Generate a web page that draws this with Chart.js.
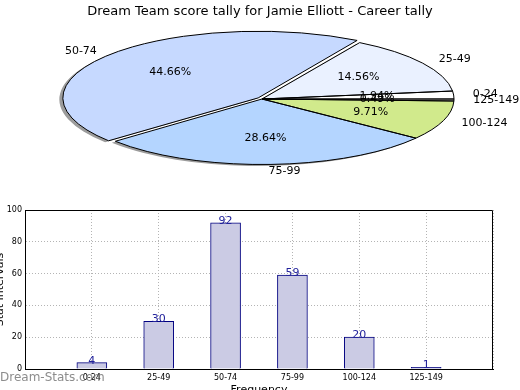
<!DOCTYPE html>
<html>
<head>
<meta charset="utf-8">
<script src="https://cdn.jsdelivr.net/npm/chart.js@4.4.1/dist/chart.umd.min.js"></script>
<style>
  html, body { margin: 0; padding: 0; background: #fff; }
  #wrap { position: relative; width: 520px; height: 390px; overflow: hidden; }
  canvas { position: absolute; left: 0; top: 0; }
</style>
</head>
<body>
<div id="wrap">
  <canvas id="barChart" width="520" height="390"></canvas>
  <canvas id="pieChart" width="520" height="200"></canvas>
</div>
<script>
const TITLE = "Dream Team score tally for Jamie Elliott - Career tally";
const categories = ["0-24", "25-49", "50-74", "75-99", "100-124", "125-149"];
const counts = [4, 30, 92, 59, 20, 1];
const yTicks = [0, 20, 40, 60, 80, 100];
const explodedSlice = "50-74";

const FONT = "DejaVu Sans";
const SLICE_COLORS = ["#ffffff", "#eaf1ff", "#c6d9ff", "#b4d5ff", "#d1ea8c", "#f4f4f4"];
const PIE_RADIUS = 192;
const PIE_SQUASH = 65.5 / 192;
const EXPLODE_OFFSET = 20;

Chart.defaults.font.family = FONT;
Chart.defaults.color = "#000";

const total = counts.reduce((s, v) => s + v, 0);

// matplotlib goes counter-clockwise from 3 o'clock, chart.js clockwise,
// so feed the slices in reverse
const pieLabels = categories.slice().reverse();
const pieValues = counts.slice().reverse();
const pieColors = SLICE_COLORS.slice().reverse();

function squash(ctx, chart) {
  const cy = (chart.chartArea.top + chart.chartArea.bottom) / 2;
  ctx.translate(0, cy);
  ctx.scale(1, PIE_SQUASH);
  ctx.translate(0, -cy);
}

// same geometry chart.js uses for an offset arc
function wedgePath(ctx, arc) {
  const { x, y, startAngle, endAngle, outerRadius } = arc;
  const off = (arc.options.offset || 0) / 4;
  const half = (startAngle + endAngle) / 2;
  const alpha = endAngle - startAngle;
  const ro = off * (1 - Math.sin(Math.min(Math.PI, alpha)));
  const r = outerRadius + ro;
  const beta = Math.max(0.001, alpha * r - ro / Math.PI) / r;
  const a0 = startAngle + (alpha - beta) / 2;
  const a1 = endAngle - (alpha - beta) / 2;
  const cx = x + Math.cos(half) * off;
  const cy = y + Math.sin(half) * off;
  ctx.beginPath();
  ctx.moveTo(cx, cy);
  ctx.arc(cx, cy, r, a0, a1);
  ctx.closePath();
}

const ellipsePie = {
  id: "ellipsePie",
  beforeDatasetsDraw(chart) {
    const ctx = chart.ctx;
    const arcs = chart.getDatasetMeta(0).data;
    ctx.save();
    ctx.translate(-3.5, 1.5);
    squash(ctx, chart);
    ctx.fillStyle = "#9c9c9c";
    arcs.forEach((a) => { wedgePath(ctx, a); ctx.fill(); });
    ctx.restore();
    ctx.save();
    squash(ctx, chart);
  },
  afterDatasetsDraw(chart) {
    const ctx = chart.ctx;
    ctx.restore();
    const arcs = chart.getDatasetMeta(0).data;
    ctx.save();
    ctx.lineWidth = 1;
    ctx.strokeStyle = "#000";
    ctx.lineJoin = "round";
    arcs.forEach((a) => {
      ctx.save();
      squash(ctx, chart);
      wedgePath(ctx, a);
      ctx.restore();
      ctx.stroke();
    });
    ctx.restore();
  },
  afterDraw(chart) {
    const ctx = chart.ctx;
    const ca = chart.chartArea;
    const midY = (ca.top + ca.bottom) / 2;
    const arcs = chart.getDatasetMeta(0).data;
    ctx.save();
    ctx.fillStyle = "#000";
    ctx.font = "13px " + FONT;
    ctx.textAlign = "center";
    ctx.textBaseline = "alphabetic";
    ctx.fillText(TITLE, 260, 15);

    ctx.font = "11px " + FONT;
    ctx.textBaseline = "middle";
    arcs.forEach((a, i) => {
      const half = (a.startAngle + a.endAngle) / 2;
      const off = (a.options.offset || 0) / 4;
      const cx = a.x + Math.cos(half) * off;
      const cy = a.y + Math.sin(half) * off;
      const at = (f) => [
        cx + Math.cos(half) * a.outerRadius * f,
        midY + (cy + Math.sin(half) * a.outerRadius * f - midY) * PIE_SQUASH,
      ];
      const [lx, ly] = at(1.1);
      ctx.textAlign = Math.cos(half) > 0 ? "left" : "right";
      ctx.fillText(pieLabels[i], lx, ly);
      const [px, py] = at(0.6);
      ctx.textAlign = "center";
      ctx.fillText((pieValues[i] / total * 100).toFixed(2) + "%", px, py);
    });
    ctx.restore();
  },
};

new Chart(document.getElementById("pieChart"), {
  type: "pie",
  data: {
    labels: pieLabels,
    datasets: [
      {
        data: pieValues,
        backgroundColor: pieColors,
        borderWidth: 0,
        offset: pieLabels.map((l) => (l === explodedSlice ? EXPLODE_OFFSET : 0)),
        clip: false,
      },
    ],
  },
  options: {
    responsive: false,
    animation: false,
    rotation: 90,
    radius: PIE_RADIUS,
    layout: { padding: { left: 4, bottom: 2 } },
    plugins: { legend: { display: false }, tooltip: { enabled: false } },
  },
  plugins: [ellipsePie],
});

const barExtras = {
  id: "barExtras",
  afterDatasetsDraw(chart) {
    const ctx = chart.ctx;
    const meta = chart.getDatasetMeta(0);
    const data = chart.data.datasets[0].data;
    ctx.save();
    ctx.fillStyle = "#22229b";
    ctx.font = "11px " + FONT;
    ctx.textAlign = "center";
    ctx.textBaseline = "alphabetic";
    meta.data.forEach((bar, i) => {
      if (data[i] == null) return;
      ctx.fillText(String(data[i]), bar.x, bar.y + 1);
    });
    ctx.restore();
  },
  afterDraw(chart) {
    const ctx = chart.ctx;
    const ca = chart.chartArea;
    ctx.save();
    ctx.strokeStyle = "#000";
    ctx.lineWidth = 1;
    ctx.beginPath();
    ctx.moveTo(ca.left, Math.round(ca.top) + 0.5);
    ctx.lineTo(Math.round(ca.right) - 0.5, Math.round(ca.top) + 0.5);
    ctx.lineTo(Math.round(ca.right) - 0.5, ca.bottom);
    ctx.stroke();

    ctx.fillStyle = "#000";
    ctx.font = "11px " + FONT;
    ctx.textAlign = "center";
    ctx.textBaseline = "alphabetic";
    ctx.fillText("Frequency", (ca.left + ca.right) / 2, 393);
    ctx.save();
    ctx.translate(3, (ca.top + ca.bottom) / 2);
    ctx.rotate(-Math.PI / 2);
    ctx.fillText("Stat Intervals", 0, 0);
    ctx.restore();

    ctx.fillStyle = "rgba(120,120,120,0.85)";
    ctx.font = "12px " + FONT;
    ctx.textAlign = "left";
    ctx.fillText("Dream-Stats.com", 0, 381);
    ctx.restore();
  },
};

const gridStyle = { color: "#b4b4b4", lineWidth: 1, drawTicks: false, offset: false };

new Chart(document.getElementById("barChart"), {
  type: "bar",
  data: {
    labels: ["", ...categories, ""],
    datasets: [
      {
        data: [null, ...counts, null],
        backgroundColor: "#cbcbe4",
        borderColor: "#000080",
        borderWidth: 1,
        barThickness: 30,
      },
    ],
  },
  options: {
    responsive: false,
    animation: false,
    layout: { padding: { top: 210, right: 27, left: 0, bottom: 0 } },
    plugins: { legend: { display: false }, tooltip: { enabled: false } },
    scales: {
      x: {
        offset: false,
        z: 1,
        grid: gridStyle,
        border: { color: "#000", dash: [1, 2] },
        ticks: { font: { size: 8 }, color: "#000", padding: 4, autoSkip: false, maxRotation: 0 },
        afterFit: (s) => { s.height = 21; },
      },
      y: {
        min: yTicks[0],
        max: yTicks[yTicks.length - 1],
        z: 1,
        grid: gridStyle,
        border: { color: "#000", dash: [1, 2] },
        afterBuildTicks: (s) => { s.ticks = yTicks.map((v) => ({ value: v })); },
        ticks: { font: { size: 8 }, color: "#000", padding: 3 },
        afterFit: (s) => { s.width = 25; },
      },
    },
  },
  plugins: [barExtras],
});
</script>
</body>
</html>
